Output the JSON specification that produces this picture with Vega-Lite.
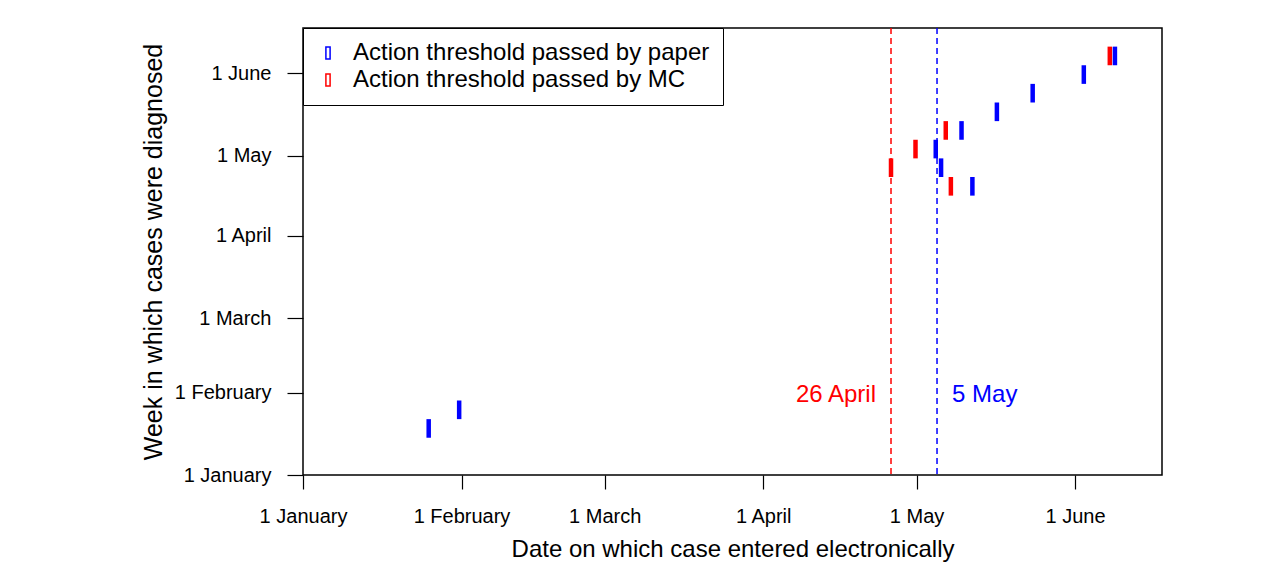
{
  "$schema": "https://vega.github.io/schema/vega-lite/v6.json",
  "width": 859,
  "height": 447,
  "autosize": {"type": "none"},
  "padding": {"left": 303, "top": 28, "right": 120, "bottom": 91},
  "background": "white",
  "config": {
    "font": "Liberation Sans",
    "view": {"stroke": "black", "strokeWidth": 1.5},
    "axis": {
      "domain": false,
      "grid": false,
      "tickColor": "black",
      "tickWidth": 1.2,
      "labelColor": "black",
      "titleColor": "black",
      "labelFont": "Liberation Sans",
      "titleFont": "Liberation Sans",
      "titleFontWeight": "normal",
      "labelFontWeight": "normal",
      "labelFontSize": 20,
      "titleFontSize": 24
    },
    "legend": {
      "orient": "top-left",
      "offset": 0,
      "strokeColor": "black",
      "fillColor": "white",
      "padding": 13,
      "labelFont": "Liberation Sans",
      "labelFontSize": 24,
      "labelColor": "black",
      "labelLimit": 600,
      "symbolType": "M-0.35,-1L0.35,-1L0.35,1L-0.35,1Z",
      "symbolSize": 144,
      "symbolStrokeWidth": 1.5,
      "symbolFillColor": "white",
      "rowPadding": 3,
      "labelOffset": 13,
      "symbolOffset": 0
    }
  },
  "datasets": {
    "cases": [
      {"method": "Action threshold passed by paper", "entered": "2009-01-25T14:00:00Z", "weekStart": "2009-01-15", "weekEnd": "2009-01-22"},
      {"method": "Action threshold passed by paper", "entered": "2009-01-31T13:00:00Z", "weekStart": "2009-01-22", "weekEnd": "2009-01-29"},
      {"method": "Action threshold passed by MC", "entered": "2009-04-26", "weekStart": "2009-04-23", "weekEnd": "2009-04-30"},
      {"method": "Action threshold passed by MC", "entered": "2009-04-30T19:00:00Z", "weekStart": "2009-04-30", "weekEnd": "2009-05-07"},
      {"method": "Action threshold passed by paper", "entered": "2009-05-04T18:00:00Z", "weekStart": "2009-04-30", "weekEnd": "2009-05-07"},
      {"method": "Action threshold passed by paper", "entered": "2009-05-05T19:00:00Z", "weekStart": "2009-04-23", "weekEnd": "2009-04-30"},
      {"method": "Action threshold passed by MC", "entered": "2009-05-06T17:00:00Z", "weekStart": "2009-05-07", "weekEnd": "2009-05-14"},
      {"method": "Action threshold passed by MC", "entered": "2009-05-07T17:00:00Z", "weekStart": "2009-04-16", "weekEnd": "2009-04-23"},
      {"method": "Action threshold passed by paper", "entered": "2009-05-09T19:00:00Z", "weekStart": "2009-05-07", "weekEnd": "2009-05-14"},
      {"method": "Action threshold passed by paper", "entered": "2009-05-11T22:00:00Z", "weekStart": "2009-04-16", "weekEnd": "2009-04-23"},
      {"method": "Action threshold passed by paper", "entered": "2009-05-16T17:00:00Z", "weekStart": "2009-05-14", "weekEnd": "2009-05-21"},
      {"method": "Action threshold passed by paper", "entered": "2009-05-23T17:00:00Z", "weekStart": "2009-05-21", "weekEnd": "2009-05-28"},
      {"method": "Action threshold passed by paper", "entered": "2009-06-02T17:00:00Z", "weekStart": "2009-05-28", "weekEnd": "2009-06-04"},
      {"method": "Action threshold passed by MC", "entered": "2009-06-07T19:00:00Z", "weekStart": "2009-06-04", "weekEnd": "2009-06-11"},
      {"method": "Action threshold passed by paper", "entered": "2009-06-08T19:00:00Z", "weekStart": "2009-06-04", "weekEnd": "2009-06-11"}
    ],
    "thresholds": [
      {"method": "MC", "date": "2009-04-26", "label": "26 April"},
      {"method": "paper", "date": "2009-05-05", "label": "5 May"}
    ]
  },
  "encoding": {
    "x": {
      "field": "entered",
      "type": "temporal",
      "scale": {
        "type": "utc",
        "domain": [
          {"year": 2009, "month": 1, "date": 1, "utc": true},
          {"year": 2009, "month": 6, "date": 18, "utc": true}
        ],
        "nice": false
      },
      "axis": {
        "title": "Date on which case entered electronically",
        "values": [
          {"year": 2009, "month": 1, "date": 1, "utc": true},
          {"year": 2009, "month": 2, "date": 1, "utc": true},
          {"year": 2009, "month": 3, "date": 1, "utc": true},
          {"year": 2009, "month": 4, "date": 1, "utc": true},
          {"year": 2009, "month": 5, "date": 1, "utc": true},
          {"year": 2009, "month": 6, "date": 1, "utc": true}
        ],
        "labelExpr": "utcFormat(datum.value, '%-d %B')",
        "labelFontSize": 20,
        "labelFontWeight": "normal",
        "tickSize": 14,
        "labelPadding": 17,
        "titlePadding": 11,
        "labelOverlap": false,
        "labelFlush": false
      }
    }
  },
  "layer": [
    {
      "data": {"name": "thresholds"},
      "transform": [{"filter": "datum.method === 'MC'"}],
      "mark": {"type": "rule", "color": "#ff0000", "strokeWidth": 1.5, "strokeDash": [6, 4]},
      "encoding": {"x": {"field": "date", "type": "temporal"}}
    },
    {
      "data": {"name": "thresholds"},
      "transform": [{"filter": "datum.method === 'paper'"}],
      "mark": {"type": "rule", "color": "#0000ff", "strokeWidth": 1.5, "strokeDash": [6, 4]},
      "encoding": {"x": {"field": "date", "type": "temporal"}}
    },
    {
      "data": {"name": "thresholds"},
      "transform": [{"filter": "datum.method === 'MC'"}],
      "mark": {"type": "text", "color": "#ff0000", "fontSize": 24, "align": "right", "baseline": "middle", "dx": -15},
      "encoding": {
        "x": {"field": "date", "type": "temporal"},
        "y": {"datum": {"year": 2009, "month": 1, "date": 31, "utc": true}, "type": "temporal"},
        "text": {"field": "label"}
      }
    },
    {
      "data": {"name": "thresholds"},
      "transform": [{"filter": "datum.method === 'paper'"}],
      "mark": {"type": "text", "color": "#0000ff", "fontSize": 24, "align": "left", "baseline": "middle", "dx": 15},
      "encoding": {
        "x": {"field": "date", "type": "temporal"},
        "y": {"datum": {"year": 2009, "month": 1, "date": 31, "utc": true}, "type": "temporal"},
        "text": {"field": "label"}
      }
    },
    {
      "data": {"name": "cases"},
      "mark": {"type": "rule", "strokeWidth": 4.5, "strokeCap": "butt"},
      "encoding": {
        "y": {
          "field": "weekStart",
          "type": "temporal",
          "scale": {
            "type": "utc",
            "domain": [
              {"year": 2009, "month": 1, "date": 1, "utc": true},
              {"year": 2009, "month": 6, "date": 18, "utc": true}
            ],
            "nice": false
          },
          "axis": {
            "title": "Week in which cases were diagnosed",
            "titleFontSize": 25,
            "values": [
              {"year": 2009, "month": 1, "date": 1, "utc": true},
              {"year": 2009, "month": 2, "date": 1, "utc": true},
              {"year": 2009, "month": 3, "date": 1, "utc": true},
              {"year": 2009, "month": 4, "date": 1, "utc": true},
              {"year": 2009, "month": 5, "date": 1, "utc": true},
              {"year": 2009, "month": 6, "date": 1, "utc": true}
            ],
            "labelExpr": "utcFormat(datum.value, '%-d %B')",
            "labelFontSize": 20,
            "labelFontWeight": "normal",
            "tickSize": 16,
            "labelPadding": 16,
            "titlePadding": 8,
            "labelOverlap": false,
            "labelFlush": false
          }
        },
        "y2": {"field": "weekEnd"},
        "color": {
          "field": "method",
          "type": "nominal",
          "scale": {
            "domain": ["Action threshold passed by paper", "Action threshold passed by MC"],
            "range": ["#0000ff", "#ff0000"]
          },
          "legend": {"title": null}
        }
      }
    }
  ]
}
